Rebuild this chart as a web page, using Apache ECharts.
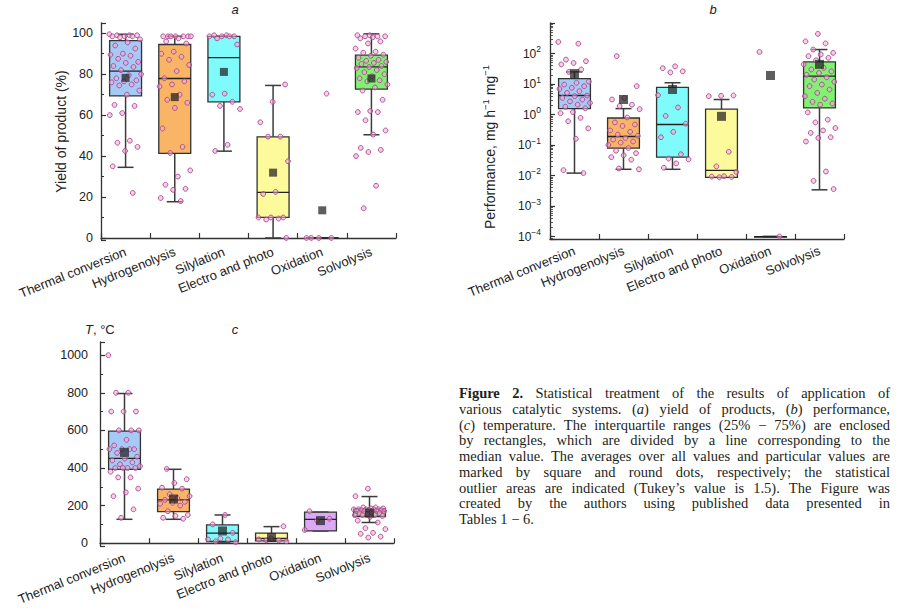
<!DOCTYPE html>
<html>
<head>
<meta charset="utf-8">
<script src="https://cdn.jsdelivr.net/npm/echarts@6/dist/echarts.min.js"></script>
<style>html,body{margin:0;padding:0;background:#fff}#c{width:900px;height:608px}</style>
</head>
<body>
<div id="c"></div>
<script>
// ---------- categories ----------
const categories = ['Thermal conversion', 'Hydrogenolysis', 'Silylation', 'Electro and photo', 'Oxidation', 'Solvolysis'];
const boxColors = ['#a6caf6', '#f9b466', '#80fbfb', '#fdfa9c', '#dba9f6', '#80f172'];

// ---------- panel a: yield of product (%) ----------
// [lower whisker, Q1, median, Q3, upper whisker]
const boxYield = [
  [34.5, 69.4, 81.5, 96.4, 99.5],
  [17.7, 41.3, 77.9, 94.5, 98.5],
  [42.4, 66.5, 88.1, 98.5, 98.5],
  [0, 10.1, 22.3, 49.4, 74.5],
  [0, 0, 0, 0, 0],
  [50.4, 72.7, 83.6, 89.3, 99.7]
];
const meanYield = [78.2, 68.8, 81.1, 31.9, 13.5, 77.9];
const yieldThermal = [99.5, 99, 99, 99, 98.5, 98.5, 98.5, 98, 97, 95.5, 94, 92.5, 90, 89.5, 89, 87.5, 86, 85.5, 84, 83.5, 82, 80, 79.5, 78, 77, 76.5, 76, 75, 74.5, 72, 70, 65, 64.5, 61, 60, 47.5, 46.5, 44.5, 42.5, 35, 22];
const yieldHydro = [98.5, 98.5, 98.5, 98.5, 98.5, 98.5, 98.5, 97.5, 96, 95, 91, 90, 88.5, 87, 84.5, 81.5, 78, 76.5, 75, 74, 70, 67.5, 66, 63.5, 53.5, 44.5, 41.5, 33, 30, 26, 24, 23.5, 19.5, 18];
const yieldSilyl = [99, 99, 98.5, 98.5, 98.5, 98.5, 97.5, 94.5, 70.5, 70, 66.5, 64.5, 63, 45.5, 42.5];
const yieldElectro = [75, 66.5, 56.5, 49.5, 49.5, 37.5, 22.5, 21.5, 10, 10, 10, 9.5, 9, 0];
const yieldOxid = [0, 0, 0, 0, 70.5];
const yieldSolv = [99, 99, 98.5, 98.5, 98.5, 98, 97.5, 96, 95, 92.5, 91, 90.5, 89.5, 89, 88, 87, 86.5, 86, 85.5, 85, 84, 83.5, 83, 82, 81, 80, 79, 78, 77, 76.5, 75, 73.5, 72, 67.5, 62, 61.5, 61.5, 57.5, 52.5, 50.5, 44, 43, 42, 40, 25.5, 14.5];

// ---------- panel b: performance, mg h-1 mg-1 (log) ----------
const boxPerf = [
  [0.012, 1.56, 4.2, 15.1, 25],
  [0.016, 0.079, 0.19, 0.77, 1.56],
  [0.016, 0.040, 0.47, 7.8, 11],
  [0.0087, 0.0087, 0.0147, 1.5, 3.1],
  [0.0001, 0.0001, 0.0001, 0.0001, 0.0001],
  [0.0034, 1.64, 18, 53, 135]
];
const meanPerf = [22, 3.1, 6.6, 0.87, 19, 44];
const perfThermal = [240, 210, 63, 56, 49, 44, 30, 25, 12, 11, 9.6, 8.5, 7.5, 6.9, 5.8, 5.1, 4.2, 4.0, 3.5, 3.1, 2.7, 2.4, 2.1, 1.8, 1.6, 1.2, 1.1, 0.78, 0.6, 0.35, 0.16, 0.015, 0.012];
const perfHydro = [82, 8.5, 3.5, 3.1, 2.1, 1.9, 1.5, 0.8, 0.55, 0.47, 0.42, 0.3, 0.27, 0.22, 0.2, 0.17, 0.15, 0.13, 0.12, 0.1, 0.08, 0.065, 0.054, 0.046, 0.04, 0.033, 0.017, 0.016];
const perfSilyl = [38, 33, 26, 24, 4.3, 1.7, 0.9, 0.5, 0.27, 0.18, 0.05, 0.036, 0.034, 0.025, 0.018];
const perfElectro = [4.2, 4.1, 4.0, 0.06, 0.02, 0.013, 0.0095, 0.0092, 0.009, 0.0088];
const perfOxid = [113, 0.0001];
const perfSolv = [440, 250, 214, 135, 105, 93, 82, 72, 60, 44, 34, 30, 26, 23, 20, 16.6, 14, 11.8, 9.6, 8.5, 6.6, 5.1, 4, 3.3, 2.6, 2.3, 2.1, 1.17, 0.68, 0.55, 0.36, 0.3, 0.25, 0.18, 0.17, 0.13, 0.0135, 0.0067, 0.0036];

// ---------- panel c: temperature, °C ----------
const boxTemp = [
  [127, 393, 451, 596, 796],
  [127, 168, 230, 288, 393],
  [6, 9, 53, 97, 150],
  [12, 12, 25, 53, 88],
  [65, 65, 127, 165, 165],
  [110, 142, 168, 182, 248]
];
const meanTemp = [483, 235, 65, 30, 120, 160];
const tempThermal = [1000, 800, 800, 700, 700, 700, 600, 600, 600, 550, 520, 500, 500, 500, 500, 480, 460, 450, 440, 430, 420, 410, 400, 400, 400, 400, 380, 350, 350, 290, 270, 250, 180, 135];
const tempHydro = [395, 340, 320, 295, 290, 260, 250, 240, 230, 220, 215, 210, 200, 170, 150, 145, 135, 130];
const tempSilyl = [150, 100, 55, 25, 20, 20, 10, 5];
const tempElectro = [90, 25, 20, 15, 15, 10];
const tempOxid = [170, 130, 120, 70];
const tempSolv = [290, 250, 190, 190, 185, 185, 180, 180, 180, 180, 180, 175, 175, 175, 170, 170, 170, 170, 165, 160, 160, 155, 150, 150, 150, 145, 140, 120, 110, 80, 75, 55, 50, 35, 30];

// ---------- caption ----------
const captionLines = [
  '**Figure** **2.**  Statistical treatment of the results of application of',
  'various catalytic systems. (_a_) yield of products, (_b_) performance,',
  '(_c_) temperature. The interquartile ranges (25% − 75%) are enclosed',
  'by rectangles, which are divided by a line corresponding to the',
  'median value. The averages over all values and particular values are',
  'marked by square and round dots, respectively; the statistical',
  'outlier areas are indicated (Tukey’s value is 1.5). The Figure was',
  'created by the authors using published data presented in',
  'Tables 1 − 6.'
];

// ---------- helpers ----------
const AX = '#333';
const SANS = 'Liberation Sans';

function catAxis(gi, margin) {
  return {
    type: 'category', gridIndex: gi, data: categories, boundaryGap: true,
    axisLine: { lineStyle: { color: AX, width: 1.3 } },
    axisTick: { show: true, inside: true, length: 5, lineStyle: { color: AX, width: 1.2 } },
    axisLabel: { interval: 0, rotate: 22, fontSize: 13, color: '#222', margin: margin, fontFamily: SANS },
    splitLine: { show: false }
  };
}

function boxSeries(gi, stats) {
  return {
    type: 'custom', xAxisIndex: gi, yAxisIndex: gi, z: 2, silent: true,
    data: stats.map((s, i) => [i, s[0], s[1], s[2], s[3], s[4]]),
    encode: { x: 0, y: [1, 2, 3, 4, 5] },
    renderItem: function (params, api) {
      const i = api.value(0);
      const lo = api.coord([i, api.value(1)]);
      const q1 = api.coord([i, api.value(2)]);
      const md = api.coord([i, api.value(3)]);
      const q3 = api.coord([i, api.value(4)]);
      const hi = api.coord([i, api.value(5)]);
      const band = api.coord([1, api.value(3)])[0] - api.coord([0, api.value(3)])[0];
      const bw = band * 0.65, cw = bw * 0.5, x = md[0];
      const ws = { stroke: '#3b3b3b', lineWidth: 1.5 };
      return {
        type: 'group', children: [
          { type: 'line', shape: { x1: x, y1: hi[1], x2: x, y2: q3[1] }, style: ws },
          { type: 'line', shape: { x1: x, y1: q1[1], x2: x, y2: lo[1] }, style: ws },
          { type: 'line', shape: { x1: x - cw / 2, y1: hi[1], x2: x + cw / 2, y2: hi[1] }, style: ws },
          { type: 'line', shape: { x1: x - cw / 2, y1: lo[1], x2: x + cw / 2, y2: lo[1] }, style: ws },
          { type: 'rect', shape: { x: x - bw / 2, y: q3[1], width: bw, height: Math.max(q1[1] - q3[1], 0.5) },
            style: { fill: boxColors[i], stroke: '#333', lineWidth: 1.3 } },
          { type: 'line', shape: { x1: x - bw / 2, y1: md[1], x2: x + bw / 2, y2: md[1] }, style: { stroke: '#222', lineWidth: 1.3 } }
        ]
      };
    }
  };
}

function pointSeries(gi, groups) {
  const data = [];
  groups.forEach((arr, c) => arr.forEach((v, k) => data.push([c, v, k])));
  return {
    type: 'custom', xAxisIndex: gi, yAxisIndex: gi, z: 3, silent: true,
    data: data, encode: { x: 0, y: 1 },
    renderItem: function (params, api) {
      const c = api.value(0), v = api.value(1), k = api.value(2);
      const p = api.coord([c, v]);
      const band = api.coord([1, v])[0] - api.coord([0, v])[0];
      const f = ((k * 0.618034 + c * 0.29) % 1) - 0.5;
      return {
        type: 'circle', shape: { cx: p[0] + f * 0.66 * band, cy: p[1], r: 2.4 },
        style: { fill: 'rgba(240,168,210,0.55)', stroke: '#a9468e', lineWidth: 0.9 }
      };
    }
  };
}

function meanSeries(gi, means, size) {
  return {
    type: 'scatter', xAxisIndex: gi, yAxisIndex: gi, z: 4, silent: true,
    symbol: 'rect', symbolSize: size,
    itemStyle: { color: 'rgba(32,32,32,0.9)', borderWidth: 0 },
    data: means.map((m, i) => [i, m])
  };
}

// ---------- caption layout (justified) ----------
const CAP_SIZE = 14.5, CAP_LEFT = 459, CAP_WIDTH = 431, CAP_TOP = 393, CAP_STEP = 15.75;
const capFonts = {
  r: CAP_SIZE + 'px "Liberation Serif"',
  b: 'bold ' + CAP_SIZE + 'px "Liberation Serif"',
  i: 'italic ' + CAP_SIZE + 'px "Liberation Serif"'
};
const measureCtx = document.createElement('canvas').getContext('2d');
function measure(t, k) { measureCtx.font = capFonts[k]; return measureCtx.measureText(t).width; }
function parseWord(w) {
  const segs = [];
  w.split(/(\*\*[^*]+\*\*|_[^_]+_)/).forEach(s => {
    if (!s) return;
    if (s.startsWith('**')) segs.push([s.slice(2, -2), 'b']);
    else if (s.startsWith('_') && s.length > 2) segs.push([s.slice(1, -1), 'i']);
    else segs.push([s, 'r']);
  });
  return segs;
}
const capRich = {
  r: { font: capFonts.r, fill: '#231f20' },
  b: { font: capFonts.b, fill: '#231f20' },
  i: { font: capFonts.i, fill: '#231f20' }
};
const captionGraphics = [];
captionLines.forEach((line, li) => {
  const words = line.split(/\s+/).filter(Boolean).map(parseWord);
  const widths = words.map(segs => segs.reduce((s, g) => s + measure(g[0], g[1]), 0));
  const total = widths.reduce((a, b) => a + b, 0);
  const space = measure(' ', 'r');
  const last = li === captionLines.length - 1;
  const gap = last ? space : Math.max((CAP_WIDTH - total) / (words.length - 1), 1.5);
  let x = CAP_LEFT;
  words.forEach((segs, wi) => {
    captionGraphics.push({
      type: 'text', x: x, y: CAP_TOP + li * CAP_STEP, silent: true,
      style: {
        text: segs.map(g => '{' + g[1] + '|' + g[0] + '}').join(''),
        rich: capRich, verticalAlign: 'middle', align: 'left'
      }
    });
    x += widths[wi] + gap;
  });
});

// ---------- chart ----------
const chart = echarts.init(document.getElementById('c'), null, { renderer: 'svg', width: 900, height: 608 });

const option = {
  animation: false,
  backgroundColor: '#ffffff',
  textStyle: { fontFamily: SANS },
  grid: [
    { left: 101, top: 23, width: 295, height: 217 },
    { left: 550, top: 23, width: 294, height: 216 },
    { left: 100, top: 342, width: 294, height: 204 }
  ],
  xAxis: [catAxis(0, 11), catAxis(1, 11), catAxis(2, 11)],
  yAxis: [
    {
      type: 'value', gridIndex: 0, min: -1, max: 105, minInterval: 20, maxInterval: 20,
      axisLine: { show: true, lineStyle: { color: AX, width: 1.3 } },
      axisTick: { show: true, inside: true, length: 5, lineStyle: { color: AX, width: 1.2 } },
      minorTick: { show: true, splitNumber: 2, length: 3, lineStyle: { color: AX, width: 1 } },
      axisLabel: { showMinLabel: false, showMaxLabel: false, fontSize: 12.5, color: '#222', margin: 8,
        formatter: function (v) { return String(Math.round(v)); } },
      splitLine: { show: false },
      name: 'Yield of product (%)', nameLocation: 'middle', nameRotate: 90, nameGap: 32,
      nameTextStyle: { fontSize: 14, color: '#222' }
    },
    {
      type: 'log', logBase: 10, gridIndex: 1, min: 0.000083, max: 1000, splitNumber: 7,
      axisLine: { show: true, lineStyle: { color: AX, width: 1.3 } },
      axisTick: { show: true, inside: true, length: 5, lineStyle: { color: AX, width: 1.2 } },
      minorTick: { show: true, splitNumber: 9, length: 3, lineStyle: { color: AX, width: 0.8 } },
      axisLabel: {
        showMinLabel: false, showMaxLabel: false, color: '#222', margin: 9, fontSize: 12,
        formatter: function (v) {
          const e = Math.round(Math.log10(v));
          return '{b|10}{e|' + (e < 0 ? '−' + (-e) : e) + '}';
        },
        rich: {
          b: { fontSize: 12, lineHeight: 18, color: '#222' },
          e: { fontSize: 8.5, lineHeight: 9, verticalAlign: 'top', color: '#222' }
        }
      },
      splitLine: { show: false },
      name: 'Performance, mg h{s|−1} mg{s|−1}', nameLocation: 'middle', nameRotate: 90, nameGap: 50,
      nameTextStyle: {
        fontSize: 14, color: '#222', lineHeight: 20, padding: [0, 32, 0, 0],
        rich: { s: { fontSize: 9.5, lineHeight: 10, verticalAlign: 'top', color: '#222' } }
      }
    },
    {
      type: 'value', gridIndex: 2, min: -15, max: 1070, minInterval: 200, maxInterval: 200,
      axisLine: { show: true, lineStyle: { color: AX, width: 1.3 } },
      axisTick: { show: true, inside: true, length: 5, lineStyle: { color: AX, width: 1.2 } },
      minorTick: { show: true, splitNumber: 2, length: 3, lineStyle: { color: AX, width: 1 } },
      axisLabel: { showMinLabel: false, showMaxLabel: false, fontSize: 12.5, color: '#222', margin: 12,
        formatter: function (v) { return String(Math.round(v)); } },
      splitLine: { show: false }
    }
  ],
  graphic: [
    { type: 'text', x: 235, y: 9, silent: true, style: { text: 'a', font: 'italic 13px "Liberation Sans"', fill: '#222', align: 'center', verticalAlign: 'middle' } },
    { type: 'text', x: 713, y: 9, silent: true, style: { text: 'b', font: 'italic 13px "Liberation Sans"', fill: '#222', align: 'center', verticalAlign: 'middle' } },
    { type: 'text', x: 235, y: 329, silent: true, style: { text: 'c', font: 'italic 13px "Liberation Sans"', fill: '#222', align: 'center', verticalAlign: 'middle' } },
    { type: 'text', x: 85, y: 329, silent: true, style: {
        text: '{i|T}{r|, °C}', align: 'left', verticalAlign: 'middle',
        rich: { i: { font: 'italic 13px "Liberation Sans"', fill: '#222' }, r: { font: '13px "Liberation Sans"', fill: '#222' } } } }
  ].concat(captionGraphics),
  series: [
    boxSeries(0, boxYield),
    pointSeries(0, [yieldThermal, yieldHydro, yieldSilyl, yieldElectro, yieldOxid, yieldSolv]),
    meanSeries(0, meanYield, 8),
    boxSeries(1, boxPerf),
    pointSeries(1, [perfThermal, perfHydro, perfSilyl, perfElectro, perfOxid, perfSolv]),
    meanSeries(1, meanPerf, 9),
    boxSeries(2, boxTemp),
    pointSeries(2, [tempThermal, tempHydro, tempSilyl, tempElectro, tempOxid, tempSolv]),
    meanSeries(2, meanTemp, 9)
  ]
};
chart.setOption(option);
</script>
</body>
</html>
